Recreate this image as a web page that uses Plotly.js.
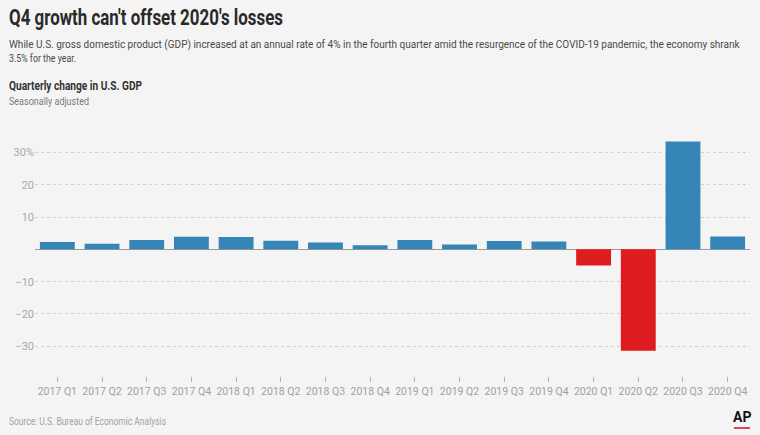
<!DOCTYPE html>
<html>
<head>
<meta charset="utf-8">
<script src="https://cdn.plot.ly/plotly-3.0.1.min.js"></script>
<style>
html,body{margin:0;padding:0;background:#f4f4f4;}
#chart{width:760px;height:435px;}
</style>
</head>
<body>
<div id="chart"></div>
<script>
const quarters = ["2017 Q1","2017 Q2","2017 Q3","2017 Q4","2018 Q1","2018 Q2","2018 Q3","2018 Q4",
                  "2019 Q1","2019 Q2","2019 Q3","2019 Q4","2020 Q1","2020 Q2","2020 Q3","2020 Q4"];
const gdpChange = [2.3, 1.7, 2.9, 3.9, 3.8, 2.7, 2.1, 1.3, 2.9, 1.5, 2.6, 2.4, -5.0, -31.4, 33.4, 4.0];
const yTickVals = [-30, -20, -10, 10, 20, 30];
const yTickText = ["\u221230", "\u221220", "\u221210", "10", "20", "30%"];

const FONT = "Roboto, 'Liberation Sans', sans-serif";
const L = 35, R = 750, T = 135, B = 376, W = 760, H = 435;
const px = x => (x - L) / (R - L);
const py = y => (B - y) / (B - T);

const colors = gdpChange.map(v => v < 0 ? "#de1b1f" : "#3585b6");

const trace = {
  type: "bar",
  x: quarters,
  y: gdpChange,
  marker: {color: colors},
  hoverinfo: "x+y"
};

// target widths (px) to mimic the condensed typeface of the original
const targetWidths = [274, 737, 67, 133, 80, 157, null];

function ann(text, x, y, size, color, opts) {
  return Object.assign({
    text: text, xref: "paper", yref: "paper", x: px(x), y: py(y),
    xanchor: "left", yanchor: "middle", showarrow: false,
    font: {family: FONT, size: size, color: color}, align: "left"
  }, opts || {});
}

const layout = {
  width: W, height: H,
  paper_bgcolor: "#f4f4f4",
  plot_bgcolor: "#f4f4f4",
  margin: {l: L, r: W - R, t: T, b: H - B, pad: 0},
  bargap: 0.22,
  showlegend: false,
  font: {family: FONT},
  xaxis: {
    type: "category",
    showgrid: false,
    showline: false,
    zeroline: false,
    ticks: "outside",
    ticklen: 5,
    tickwidth: 1,
    tickcolor: "#b5b5b5",
    tickangle: 0,
    tickfont: {family: FONT, size: 10.5, color: "#a0a0a0"},
    fixedrange: true
  },
  yaxis: {
    range: [-39.2, 35.4],
    tickvals: yTickVals,
    ticktext: yTickText,
    showgrid: true,
    gridcolor: "#cfcfcf",
    griddash: "dot",
    gridwidth: 1,
    zeroline: true,
    zerolinecolor: "#9a9a9a",
    zerolinewidth: 1.5,
    showline: false,
    ticks: "",
    tickfont: {family: FONT, size: 11, color: "#a8a8a8"},
    fixedrange: true
  },
  annotations: [
    ann("<b>Q4 growth can't offset 2020's losses</b>", 7, 18, 22, "#2a2a2a"),
    ann("While U.S. gross domestic product (GDP) increased at an annual rate of 4% in the fourth quarter amid the resurgence of the COVID-19 pandemic, the economy shrank", 7, 45, 10, "#4a4a4a"),
    ann("3.5% for the year.", 7, 58, 10, "#4a4a4a"),
    ann("<b>Quarterly change in U.S. GDP</b>", 7, 85, 12.5, "#333333"),
    ann("Seasonally adjusted", 7, 101, 11, "#7a7a7a"),
    ann("Source: U.S. Bureau of Economic Analysis", 7, 421, 10.5, "#a3a3a3"),
    ann("<b>AP</b>", 742, 417, 14, "#111111", {xanchor: "center"})
  ],
  shapes: [
    {type: "line", xref: "paper", yref: "paper", x0: px(734), x1: px(750), y0: py(428), y1: py(428),
     line: {color: "#e0435a", width: 2}}
  ]
};

Plotly.newPlot("chart", [trace], layout, {displayModeBar: false, staticPlot: true}).then(gd => {
  targetWidths.forEach((w, i) => {
    if (!w) return;
    const g = gd.querySelector('.annotation[data-index="' + i + '"]');
    if (!g) return;
    const t = g.querySelector('text.annotation-text');
    if (!t) return;
    const cur = t.getComputedTextLength();
    if (cur > w) {
      t.setAttribute("textLength", w);
      t.setAttribute("lengthAdjust", "spacingAndGlyphs");
      g.querySelectorAll('rect').forEach(r => r.setAttribute("width", w + 2));
    }
  });
});
</script>
</body>
</html>
